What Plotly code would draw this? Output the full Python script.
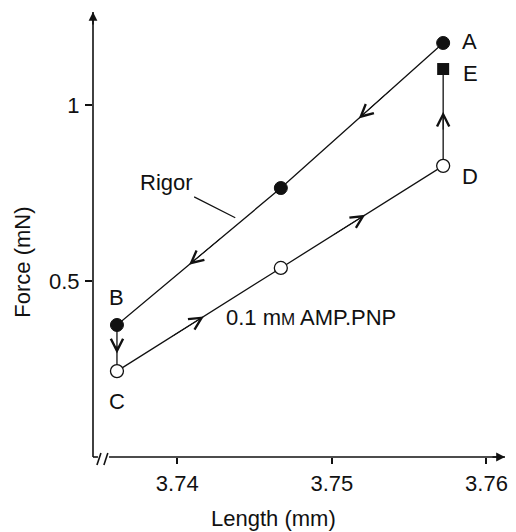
import plotly.graph_objects as go

# ---- data ----
rigor_length = [3.7572, 3.7467, 3.7361]   # A, middle, B
rigor_force = [1.176, 0.764, 0.375]
amp_length = [3.7361, 3.7467, 3.7572]     # C, middle, D
amp_force = [0.244, 0.537, 0.827]
e_length = [3.7572]
e_force = [1.102]

x_ticks = [3.74, 3.75, 3.76]
x_ticktext = ["3.74", "3.75", "3.76"]
y_ticks = [0.5, 1]
y_ticktext = ["0.5", "1"]

FONT = "Liberation Sans, Arial, Helvetica, sans-serif"
BLACK = "#111111"
FS = 22

path_x = rigor_length + amp_length + e_length
path_y = rigor_force + amp_force + e_force

fig = go.Figure()
fig.add_trace(go.Scatter(x=path_x, y=path_y, mode="lines",
                         line=dict(color=BLACK, width=1.3), hoverinfo="skip",
                         showlegend=False))
fig.add_trace(go.Scatter(x=rigor_length, y=rigor_force, mode="markers",
                         marker=dict(symbol="circle", size=13, color=BLACK,
                                     line=dict(color=BLACK, width=1)),
                         showlegend=False))
fig.add_trace(go.Scatter(x=amp_length, y=amp_force, mode="markers",
                         marker=dict(symbol="circle", size=13, color="white",
                                     line=dict(color=BLACK, width=1.3)),
                         showlegend=False))
fig.add_trace(go.Scatter(x=e_length, y=e_force, mode="markers",
                         marker=dict(symbol="square", size=12, color=BLACK),
                         showlegend=False))

ann = []
# direction chevrons along the path
arrow_frac = [0.52, 0.56, 0.62, 0.53, 0.52, 0.56]
for i in range(len(path_x) - 1):
    x0, y0, x1, y1 = path_x[i], path_y[i], path_x[i + 1], path_y[i + 1]
    f = arrow_frac[i]
    g = f - 0.2
    ann.append(dict(x=x0 + f * (x1 - x0), y=y0 + f * (y1 - y0),
                    ax=x0 + g * (x1 - x0), ay=y0 + g * (y1 - y0),
                    xref="x", yref="y", axref="x", ayref="y", text="",
                    showarrow=True, arrowhead=5, arrowsize=2.4, arrowwidth=1,
                    arrowcolor=BLACK))

# point letters
lab_font = dict(family=FONT, size=FS, color=BLACK)
ann.append(dict(x=rigor_length[0], y=rigor_force[0], text="A", showarrow=False,
                xshift=26, yshift=1, font=lab_font))
ann.append(dict(x=e_length[0], y=e_force[0], text="E", showarrow=False,
                xshift=27, yshift=-4, font=lab_font))
ann.append(dict(x=amp_length[2], y=amp_force[2], text="D", showarrow=False,
                xshift=27, yshift=-11, font=lab_font))
ann.append(dict(x=rigor_length[2], y=rigor_force[2], text="B", showarrow=False,
                xshift=0, yshift=27, font=lab_font))
ann.append(dict(x=amp_length[0], y=amp_force[0], text="C", showarrow=False,
                xshift=0, yshift=-30, font=lab_font))

# Rigor leader label
fl = 0.76
lx = rigor_length[2] + fl * (rigor_length[1] - rigor_length[2])
ly = rigor_force[2] + fl * (rigor_force[1] - rigor_force[2])
ann.append(dict(x=lx, y=ly, xref="x", yref="y", text="Rigor", showarrow=True,
                arrowhead=0, arrowwidth=1.2, arrowcolor=BLACK, ax=-75, ay=-38,
                standoff=7, font=lab_font))

# AMP.PNP label
ann.append(dict(x=3.743, y=0.395, xref="x", yref="y",
                text="0.1 m<span style='font-size:17px'>M</span> AMP.PNP",
                showarrow=False, xanchor="left", yanchor="middle", font=lab_font))

# axis titles
ann.append(dict(x=0.4386, y=-0.139, xref="paper", yref="paper",
                xanchor="center", yanchor="middle",
                text="Length (mm)", showarrow=False, font=lab_font))
ann.append(dict(x=-0.171, y=0.438, xref="paper", yref="paper",
                xanchor="center", yanchor="middle",
                text="Force (mN)", textangle=-90, showarrow=False, font=lab_font))

# axis arrow heads
ann.append(dict(x=1, y=0, xref="paper", yref="paper", ax=-14, ay=0, text="",
                showarrow=True, arrowhead=2, arrowsize=1.1, arrowwidth=1.6,
                arrowcolor=BLACK))
ann.append(dict(x=0, y=1, xref="paper", yref="paper", ax=0, ay=14, text="",
                showarrow=True, arrowhead=2, arrowsize=1.1, arrowwidth=1.6,
                arrowcolor=BLACK))

line_style = dict(color=BLACK, width=1.6)
shapes = [
    dict(type="line", xref="paper", yref="paper", x0=0, y0=0, x1=0, y1=1, line=line_style),
    dict(type="line", xref="paper", yref="paper", x0=0, y0=0, x1=0.012, y1=0, line=line_style),
    dict(type="line", xref="paper", yref="paper", x0=0.039, y0=0, x1=1, y1=0, line=line_style),
    dict(type="line", xref="paper", yref="paper", x0=0.0096, y0=-0.018, x1=0.0193, y1=0.009, line=line_style),
    dict(type="line", xref="paper", yref="paper", x0=0.0265, y0=-0.018, x1=0.036, y1=0.009, line=line_style),
]

fig.update_layout(
    width=516, height=532,
    margin=dict(l=93, r=8, t=12, b=75),
    paper_bgcolor="white", plot_bgcolor="white",
    font=dict(family=FONT, size=FS, color=BLACK),
    annotations=ann, shapes=shapes,
    xaxis=dict(range=[3.73455, 3.7612], tickvals=x_ticks, ticktext=x_ticktext,
               showgrid=False, zeroline=False, showline=False,
               ticks="outside", ticklen=6, tickwidth=1.5, tickcolor=BLACK,
               ticklabelstandoff=1, tickfont=dict(family=FONT, size=FS)),
    yaxis=dict(range=[0, 1.264], tickvals=y_ticks, ticktext=y_ticktext,
               showgrid=False, zeroline=False, showline=False,
               ticks="outside", ticklen=7, tickwidth=1.5, tickcolor=BLACK,
               ticklabelstandoff=1, tickfont=dict(family=FONT, size=FS)),
    showlegend=False,
)

fig.write_html("out.html")
